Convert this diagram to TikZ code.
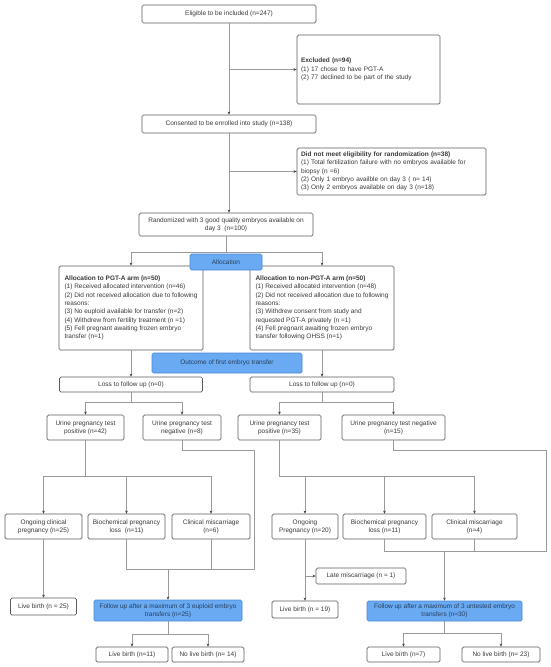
\documentclass[tikz,border=0pt]{standalone}
\usepackage{fontspec}
\setmainfont{Liberation Sans}
\usetikzlibrary{arrows.meta}
\definecolor{linec}{HTML}{9A9A9A}
\definecolor{boxc}{HTML}{5C5C5C}
\definecolor{txtc}{HTML}{3A3A3A}
\definecolor{bluef}{HTML}{69AAF2}
\definecolor{blued}{HTML}{4A88D6}
\definecolor{bluet}{HTML}{27405F}
\begin{document}
\begin{tikzpicture}[x=1pt,y=-1pt,
  box/.style={draw=boxc, line width=0.7pt, rounded corners=1.5pt, fill=white, inner sep=0pt,
    font=\fontsize{6.5}{8.3}\selectfont, text=txtc, align=center},
  bbox/.style={box, fill=bluef, draw=blued, text=bluet},
  lbox/.style={box, align=left, inner xsep=4pt},
  conn/.style={draw=linec, line width=0.6pt},
  arr/.style={conn, -{Stealth[length=3pt, width=2.6pt, color=black!75]}}
]
\useasboundingbox (0,0) rectangle (550,667);

\node[box, minimum width=174pt, minimum height=18pt] (elig) at (229,14) {Eligible to be included (n=247)};
\node[lbox, text width=135pt, minimum height=69pt] (excl) at (368.5,69.5) {\textbf{Excluded (n=94)}\\(1) 17 chose to have PGT-A\\(2) 77 declined to be part of the study};
\node[box, minimum width=174pt, minimum height=18pt] (cons) at (229,124) {Consented to be enrolled into study (n=138)};
\node[lbox, text width=181pt, minimum height=47pt] (dnm) at (391.5,171.5) {\textbf{Did not meet eligibility for randomization (n=38)}\\(1) Total fertilization failure with no embryos available for\\biopsy (n =6)\\(2) Only 1 embryo availble on day 3 ( n= 14)\\(3) Only 2 embryos available on day 3 (n=18)};
\node[box, minimum width=174pt, minimum height=23pt] (rand) at (226,224.5) {Randomized with 3 good quality embryos available on\\day 3~ (n=100)};
\node[lbox, minimum width=144pt, minimum height=84pt] (armL) at (131,308) {\textbf{Allocation to PGT-A arm (n=50)}\\(1) Received allocated intervention (n=46)\\(2) Did not received allocation due to following\\reasons:\\(3) No euploid available for transfer (n=2)\\(4) Withdrew from fertility treatment (n =1)\\(5) Fell pregnant awaiting frozen embryo\\transfer (n=1)};
\node[lbox, minimum width=144pt, minimum height=84pt] (armR) at (322,308) {\textbf{Allocation to non-PGT-A arm (n=50)}\\(1) Received allocated intervention (n=48)\\(2) Did not received allocation due to following\\reasons:\\(3) Withdrew consent from study and\\requested PGT-A privately (n =1)\\(4) Fell pregnant awaiting frozen embryo\\transfer following OHSS (n=1)};
\node[bbox, minimum width=72pt, minimum height=16pt] (alloc) at (226,262) {Allocation};
\node[bbox, minimum width=150pt, minimum height=20pt] (outc) at (227,363) {Outcome of first embryo transfer};
\node[box, minimum width=143pt, minimum height=15pt] (lossL) at (131,384.5) {Loss to follow up (n=0)};
\node[box, minimum width=144pt, minimum height=15pt] (lossR) at (322,384.5) {Loss to follow up (n=0)};
\node[box, minimum width=77pt, minimum height=25pt] (upL) at (85.5,427.5) {Urine pregnancy test\\positive (n=42)};
\node[box, minimum width=78pt, minimum height=25pt] (unL) at (182,427.5) {Urine pregnancy test\\negative (n=8)};
\node[box, minimum width=83pt, minimum height=25pt] (upR) at (279.5,427.5) {Urine pregnancy test\\positive (n=35)};
\node[box, minimum width=103pt, minimum height=25pt] (unR) at (393.5,427.5) {Urine pregnancy test negative\\(n=15)};
\node[box, minimum width=77pt, minimum height=25pt] (ogL) at (43.5,526.5) {Ongoing clinical\\pregnancy (n=25)};
\node[box, minimum width=77pt, minimum height=25pt] (bcL) at (126.5,526.5) {Biochemical pregnancy\\loss~ (n=11)};
\node[box, minimum width=78pt, minimum height=25pt] (cmL) at (211,526.5) {Clinical miscarriage\\(n=6)};
\node[box, minimum width=66pt, minimum height=25pt] (ogR) at (305,526.5) {Ongoing\\Pregnancy (n=20)};
\node[box, minimum width=83pt, minimum height=25pt] (bcR) at (384.5,526.5) {Biochemical pregnancy\\loss (n=11)};
\node[box, minimum width=85pt, minimum height=25pt] (cmR) at (474.5,526.5) {Clinical miscarriage\\(n=4)};
\node[box, minimum width=66pt, minimum height=17pt] (lbL) at (43.5,606.5) {Live birth (n = 25)};
\node[bbox, minimum width=148pt, minimum height=21pt] (fuE) at (168,610.5) {Follow up after a maximum of 3 euploid embryo\\transfers (n=25)};
\node[box, minimum width=72pt, minimum height=15pt] (lbE) at (132,654.5) {Live birth (n=11)};
\node[box, minimum width=72pt, minimum height=15pt] (nlbE) at (208,654.5) {No live birth (n= 14)};
\node[box, minimum width=66pt, minimum height=17pt] (lbR) at (305,609.5) {Live birth (n = 19)};
\node[box, minimum width=90pt, minimum height=16pt] (late) at (361,576) {Late miscarriage (n = 1)};
\node[bbox, minimum width=155pt, minimum height=20pt] (fuU) at (444.5,611) {Follow up after a maximum of 3 untested embryo\\transfers (n=30)};
\node[box, minimum width=73pt, minimum height=15pt] (lbU) at (403.5,654.5) {Live birth (n=7)};
\node[box, minimum width=78pt, minimum height=15pt] (nlbU) at (501,654.5) {No live birth (n= 23)};

\coordinate (kL) at (254,569);
\coordinate (jL) at (168,569);
\coordinate (kR) at (546,551);
\coordinate (jR) at (444.5,551);

\draw[arr] (elig) -- (cons);
\draw[arr] (elig.south |- excl.west) -- (excl.west);
\draw[arr] (cons.south) -- (cons.south |- rand.north);
\draw[arr] (cons.south |- dnm.west) -- (dnm.west);
\draw[arr] (rand.south) -- ++(0,16) -| (armL.north);
\draw[arr] (rand.south) -- ++(0,16) -| (armR.north);
\draw[arr] (armL) -- (lossL);
\draw[arr] (armR) -- (lossR);
\draw[arr] (lossL.south) -- ++(0,10) -| (upL.north);
\draw[arr] (lossL.south) -- ++(0,10) -| (unL.north);
\draw[arr] (lossR.south) -- ++(0,10) -| (upR.north);
\draw[arr] (lossR.south) -- ++(0,10) -| (unR.north);
\draw[arr] (upL.south) -- ++(0,36) -| (ogL.north);
\draw[arr] (upL.south) -- ++(0,36) -| (bcL.north);
\draw[arr] (upL.south) -- ++(0,36) -| (cmL.north);
\draw[arr] (upR.south) -- ++(0,36) -| (ogR.north);
\draw[arr] (upR.south) -- ++(0,36) -| (bcR.north);
\draw[arr] (upR.south) -- ++(0,36) -| (cmR.north);
\draw[conn] (unL.south) -- ++(0,10) -| (kL) -- (kL -| bcL.south) -- (bcL.south);
\draw[conn] (cmL.south) -- (cmL.south |- kL);
\draw[arr] (jL) -- (fuE.north);
\draw[conn] (unR.south) -- ++(0,10) -| (kR) -- (kR -| bcR.south) -- (bcR.south);
\draw[conn] (cmR.south) -- (cmR.south |- kR);
\draw[arr] (jR) -- (fuU.north);
\draw[arr] (ogL) -- (lbL);
\draw[arr] (ogR) -- (lbR);
\draw[arr] (ogR.south |- late.west) -- (late.west);
\draw[arr] (fuE.south) -- ++(0,13) -| (lbE.north);
\draw[arr] (fuE.south) -- ++(0,13) -| (nlbE.north);
\draw[arr] (fuU.south) -- ++(0,12) -| (lbU.north);
\draw[arr] (fuU.south) -- ++(0,12) -| (nlbU.north);
\end{tikzpicture}
\end{document}
